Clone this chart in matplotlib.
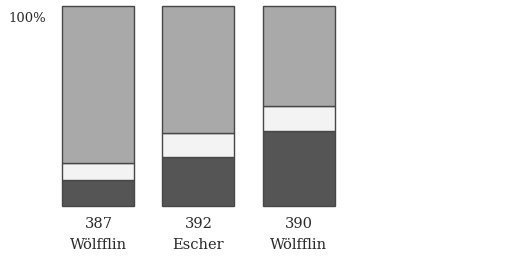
import matplotlib
matplotlib.use("Agg")
import matplotlib.pyplot as plt

numbers = ["387", "392", "390"]
names = ["Wölfflin", "Escher", "Wölfflin"]
dark = [13, 24.5, 37.5]
light = [8.5, 12, 12.5]
gray = [100 - d - l for d, l in zip(dark, light)]

plt.rcParams['font.family'] = ['DejaVu Serif']

fig = plt.figure(figsize=(5.30, 2.64), dpi=100)
ax = fig.add_axes([0, 0, 1, 1])
ax.set_xlim(-0.985, 4.315)
ax.set_ylim(-29, 103)
ax.axis('off')

x = range(len(numbers))
edge = '#474747'
ax.bar(x, dark, width=0.72, color='#555555', edgecolor=edge, linewidth=1)
ax.bar(x, light, bottom=dark, width=0.72, color='#f3f3f3', edgecolor=edge, linewidth=1)
ax.bar(x, gray, bottom=[d + l for d, l in zip(dark, light)], width=0.72,
       color='#a9a9a9', edgecolor=edge, linewidth=1)

for i in x:
    ax.text(i, -9, numbers[i], ha='center', va='center', fontsize=10.5, color='#2a2a2a')
    ax.text(i, -19.5, names[i], ha='center', va='center', fontsize=10.5, color='#2a2a2a')

ax.text(-0.905, 94, "100%", ha='left', va='center', fontsize=9.5, color='#2a2a2a')

fig.savefig("out.png", dpi=100)
